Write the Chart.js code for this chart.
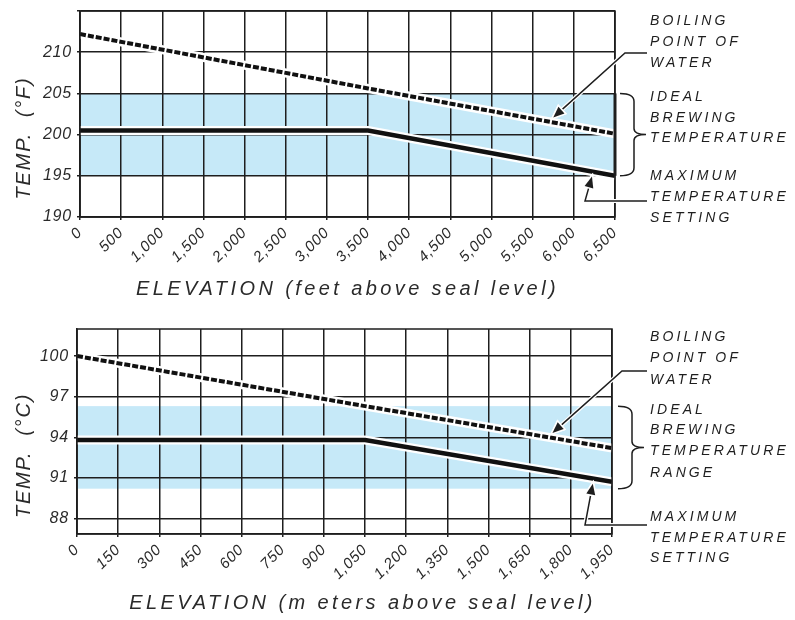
<!DOCTYPE html>
<html><head><meta charset="utf-8">
<script src="https://cdn.jsdelivr.net/npm/chart.js@4.4.1/dist/chart.umd.min.js"></script>
<style>
body{margin:0;background:#fff}
#w{position:relative;width:795px;height:620px;overflow:hidden}
canvas{position:absolute;left:0}
</style>
</head><body>
<div id="w">
<canvas id="c1" width="795" height="310" style="top:0"></canvas>
<canvas id="c2" width="795" height="310" style="top:310px"></canvas>
</div>
<script>
// ---------- DATA (Fahrenheit / feet) ----------
const feetElevation = [0, 3500, 6500];
const boilingF      = [212.2, 205.6, 200.1];
const maxSettingF   = [200.5, 200.5, 195.0];
const idealRangeF   = [195, 205];
const feetTicks     = [0,500,1000,1500,2000,2500,3000,3500,4000,4500,5000,5500,6000,6500];
const tempTicksF    = [190,195,200,205,210,215];

// ---------- DATA (Celsius / meters) ----------
const meterElevation = [0, 1050, 1950];
const boilingC       = [100.0, 96.3, 93.2];
const maxSettingC    = [93.8, 93.8, 90.7];
const idealRangeC    = [90.2, 96.3];
const meterTicks     = [0,150,300,450,600,750,900,1050,1200,1350,1500,1650,1800,1950];
const tempTicksC     = [88,91,94,97,100];

const FONT = "'Liberation Sans', Arial, sans-serif";
const INK = '#1e1e1e';
const BAND = '#c6e9f8';

function pts(xs, ys){ return xs.map((x,i)=>({x:x, y:ys[i]})); }
function interp(xs, ys, x){
  for(let i=0;i<xs.length-1;i++){
    if(x>=xs[i] && x<=xs[i+1]){ const t=(x-xs[i])/(xs[i+1]-xs[i]); return ys[i]+t*(ys[i+1]-ys[i]); }
  }
  return ys[ys.length-1];
}
function fmt(v){ return Number(v).toLocaleString('en-US'); }

function arrowHead(ctx, tipX, tipY, fromX, fromY){
  const ang = Math.atan2(tipY-fromY, tipX-fromX);
  const L = 11, W = 4.5;
  const bx = tipX - L*Math.cos(ang), by = tipY - L*Math.sin(ang);
  const px = -Math.sin(ang)*W, py = Math.cos(ang)*W;
  ctx.beginPath();
  ctx.moveTo(tipX,tipY); ctx.lineTo(bx+px,by+py); ctx.lineTo(bx-px,by-py); ctx.closePath();
  ctx.lineWidth=3; ctx.strokeStyle='#fff'; ctx.stroke();
  ctx.fillStyle=INK; ctx.fill();
  return {bx,by};
}
function polyline(ctx, p){
  ctx.beginPath(); ctx.moveTo(p[0][0],p[0][1]);
  for(let i=1;i<p.length;i++) ctx.lineTo(p[i][0],p[i][1]);
  ctx.lineWidth=4; ctx.strokeStyle='#fff'; ctx.stroke();
  ctx.lineWidth=1.5; ctx.strokeStyle=INK; ctx.stroke();
}
function brace(ctx, x0, x1, top, bot){
  const mid=(top+bot)/2, xm=(x0+x1)/2+1;
  ctx.beginPath();
  ctx.moveTo(x0, top);
  ctx.quadraticCurveTo(xm, top, xm, top+8);
  ctx.lineTo(xm, mid-6);
  ctx.quadraticCurveTo(xm, mid, x1, mid);
  ctx.quadraticCurveTo(xm, mid, xm, mid+6);
  ctx.lineTo(xm, bot-8);
  ctx.quadraticCurveTo(xm, bot, x0, bot);
  ctx.lineWidth=1.5; ctx.strokeStyle=INK; ctx.stroke();
}

function makeChart(id, cfg){
  const bgPlugin = {
    id:'band',
    beforeDraw(chart){
      const {ctx, chartArea:a, scales:{x,y}} = chart;
      ctx.save();
      const yt=y.getPixelForValue(cfg.range[1]), yb=y.getPixelForValue(cfg.range[0]);
      ctx.fillStyle=BAND;
      ctx.fillRect(a.left, yt, a.right-a.left, yb-yt);
      ctx.restore();
      ctx.letterSpacing='0.8px';
    },
    afterDraw(chart){
      const {ctx, chartArea:a, scales:{x,y}} = chart;
      ctx.save();
      ctx.letterSpacing='0px';
      // frame
      ctx.strokeStyle=INK; ctx.lineWidth=1.5;
      ctx.strokeRect(a.left, a.top, a.right-a.left, a.bottom-a.top);
      const yt=y.getPixelForValue(cfg.range[1]), yb=y.getPixelForValue(cfg.range[0]);
      if(cfg.thickEdge){ ctx.lineWidth=3; ctx.beginPath(); ctx.moveTo(a.right, yt); ctx.lineTo(a.right, yb); ctx.stroke(); }
      // axis titles
      ctx.fillStyle='#2a2a2a';
      ctx.font='italic 20px '+FONT;
      ctx.letterSpacing='3.4px';
      ctx.textAlign='center'; ctx.textBaseline='middle';
      ctx.fillText(cfg.xTitle, (a.left+a.right)/2+cfg.xTitleDx, cfg.xTitleY);
      ctx.letterSpacing='1.8px';
      ctx.save();
      ctx.translate(cfg.yTitleX, (a.top+a.bottom)/2+cfg.yTitleDy);
      ctx.rotate(-Math.PI/2);
      ctx.fillText(cfg.yTitle, 0, 0);
      ctx.restore();
      // annotation texts
      ctx.font='italic 14px '+FONT;
      ctx.letterSpacing='3.1px';
      ctx.textAlign='left'; ctx.fillStyle=INK;
      cfg.notes.forEach(n=>ctx.fillText(n[0], 650, n[1]));
      ctx.letterSpacing='0px';
      // boiling arrow
      const bx=x.getPixelForValue(cfg.boilArrowX);
      const by=y.getPixelForValue(interp(cfg.xs, cfg.boil, cfg.boilArrowX))-5;
      const c1=cfg.boilCorner;
      const h1=arrowHead(ctx, bx, by, c1[0], c1[1]);
      polyline(ctx, [[h1.bx,h1.by],[c1[0],c1[1]],[647,c1[1]]]);
      arrowHead(ctx, bx, by, c1[0], c1[1]);
      // max arrow
      const mx=x.getPixelForValue(cfg.maxArrowX);
      const my=y.getPixelForValue(interp(cfg.xs, cfg.max, cfg.maxArrowX))+5;
      const c2=cfg.maxCorner;
      const h2=arrowHead(ctx, mx, my, c2[0], c2[1]);
      polyline(ctx, [[h2.bx,h2.by],[c2[0],c2[1]],[647,c2[1]]]);
      arrowHead(ctx, mx, my, c2[0], c2[1]);
      // brace
      brace(ctx, cfg.braceX[0], cfg.braceX[1], yt, yb);
      ctx.restore();
    }
  };
  const grid = {color:INK, lineWidth:1.5, drawTicks:true, tickLength:3};
  return new Chart(document.getElementById(id), {
    type:'line',
    data:{datasets:[
      {data:pts(cfg.xs,cfg.boil), borderColor:'#fff', borderWidth:9, pointRadius:0, order:4, tension:0},
      {data:pts(cfg.xs,cfg.boil), borderColor:'#111', borderWidth:4, borderDash:[6,2], borderCapStyle:'butt', pointRadius:0, order:3, tension:0},
      {data:pts(cfg.xs,cfg.max), borderColor:'#fff', borderWidth:9, pointRadius:0, order:2, tension:0},
      {data:pts(cfg.xs,cfg.max), borderColor:'#111', borderWidth:4.5, pointRadius:0, order:1, tension:0}
    ]},
    options:{
      responsive:false, animation:false,
      layout:{padding:{top:cfg.padTop, right:cfg.padRight, left:0, bottom:0}},
      plugins:{legend:{display:false}, tooltip:{enabled:false}},
      scales:{
        x:{type:'linear', min:cfg.xTicks[0], max:cfg.xTicks[cfg.xTicks.length-1],
          afterBuildTicks(s){ s.ticks = cfg.xTicks.map(v=>({value:v})); },
          afterFit(s){ s.height = cfg.xHeight; },
          grid:grid, border:{color:INK, width:1.5},
          ticks:{autoSkip:false, minRotation:45, maxRotation:45, padding:4, color:'#2a2a2a',
            font:{family:FONT, size:15, style:'italic'}, callback:v=>fmt(v)}
        },
        y:{type:'linear', min:cfg.yMin, max:cfg.yMax,
          afterBuildTicks(s){ s.ticks = cfg.yTicks.map(v=>({value:v})); },
          afterFit(s){ s.width = cfg.yWidth; s.paddingTop = 0; s.paddingBottom = 0; },
          grid:grid, border:{color:INK, width:1.5},
          ticks:{padding:5, color:'#2a2a2a', font:{family:FONT, size:16, style:'italic'},
            callback:v=> (cfg.yLabels.includes(v) ? String(v) : '')}
        }
      }
    },
    plugins:[bgPlugin]
  });
}

makeChart('c1', {
  xs:feetElevation, boil:boilingF, max:maxSettingF, range:idealRangeF,
  xTicks:feetTicks, yTicks:tempTicksF, yLabels:[190,195,200,205,210], yMin:190, yMax:215,
  padTop:11, padRight:180, xHeight:93, yWidth:80,
  xTitle:'ELEVATION (feet above seal level)', xTitleDx:0, xTitleY:289,
  yTitle:'TEMP.  (°F)', yTitleX:24, yTitleDy:24,
  thickEdge:true,
  notes:[['BOILING',21],['POINT OF',42],['WATER',63],['IDEAL',97],['BREWING',118],['TEMPERATURE',138],['MAXIMUM',176],['TEMPERATURE',197],['SETTING',218]],
  boilArrowX:5750, boilCorner:[625,53], maxArrowX:6220, maxCorner:[585,201], braceX:[620,646]
});
makeChart('c2', {
  xs:meterElevation, boil:boilingC, max:maxSettingC, range:idealRangeC,
  xTicks:meterTicks, yTicks:tempTicksC, yLabels:tempTicksC, yMin:86.85, yMax:102,
  padTop:19, padRight:183, xHeight:86, yWidth:77,
  xTitle:'ELEVATION (m eters above seal level)', xTitleDx:18, xTitleY:293,
  yTitle:'TEMP.  (°C)', yTitleX:24, yTitleDy:24,
  thickEdge:false,
  notes:[['BOILING',27],['POINT OF',48],['WATER',70],['IDEAL',100],['BREWING',120],['TEMPERATURE',141],['RANGE',163],['MAXIMUM',207],['TEMPERATURE',228],['SETTING',248]],
  boilArrowX:1733, boilCorner:[622,61], maxArrowX:1880, maxCorner:[585,215], braceX:[618,644]
});
</script>
</body></html>
